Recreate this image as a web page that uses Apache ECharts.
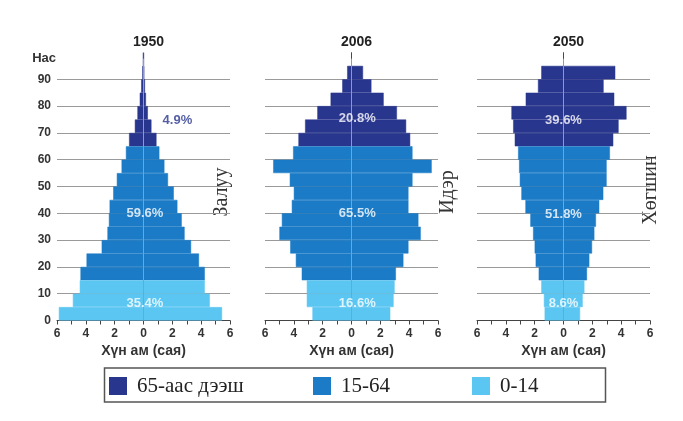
<!DOCTYPE html>
<html>
<head>
<meta charset="utf-8">
<script src="https://cdn.jsdelivr.net/npm/echarts@6/dist/echarts.min.js"></script>
<style>
html,body{margin:0;padding:0;background:#fff;}
#c{width:683px;height:421px;}
</style>
</head>
<body>
<div id="c"></div>
<script>
// ---------- DATA ----------
const ageGroups = ['0-4','5-9','10-14','15-19','20-24','25-29','30-34','35-39','40-44','45-49',
                   '50-54','55-59','60-64','65-69','70-74','75-79','80-84','85-89','90-94','95-99'];
const years = ['1950', '2006', '2050'];

// population (millions), left side and right side of each pyramid, by age group
const left1950  = [5.87, 4.90, 4.42, 4.37, 3.95, 2.90, 2.50, 2.40, 2.35, 2.10, 1.85, 1.52, 1.22, 1.00, 0.60, 0.42, 0.26, 0.16, 0.08, 0.03];
const right1950 = [5.45, 4.60, 4.25, 4.25, 3.85, 3.30, 2.85, 2.65, 2.35, 2.10, 1.70, 1.45, 1.10, 0.90, 0.55, 0.30, 0.17, 0.10, 0.05, 0.02];
const left2006  = [2.71, 3.10, 3.10, 3.45, 3.86, 4.25, 5.00, 4.83, 4.14, 4.00, 4.28, 5.43, 4.05, 3.68, 3.22, 2.37, 1.45, 0.64, 0.30, 0];
const right2006 = [2.69, 2.92, 2.99, 3.08, 3.60, 3.95, 4.80, 4.64, 3.95, 3.95, 4.23, 5.56, 4.23, 4.07, 3.79, 3.15, 2.23, 1.38, 0.80, 0];
const left2050  = [1.31, 1.36, 1.54, 1.72, 1.93, 2.00, 2.11, 2.30, 2.64, 2.92, 3.03, 3.08, 3.15, 3.38, 3.49, 3.61, 2.62, 1.77, 1.54, 0];
const right2050 = [1.15, 1.33, 1.45, 1.63, 1.79, 1.98, 2.14, 2.25, 2.48, 2.76, 2.99, 2.99, 3.22, 3.45, 3.82, 4.37, 3.52, 2.78, 3.59, 0];

// age group -> population group index (0: 65+, 1: 15-64, 2: 0-14)
const groupOfAge = [2,2,2,1,1,1,1,1,1,1,1,1,1,0,0,0,0,0,0,0];
const groupNames = ['65-аас дээш', '15-64', '0-14'];
const pct1950 = ['4.9%', '59.6%', '35.4%'];
const pct2006 = ['20.8%', '65.5%', '16.6%'];
const pct2050 = ['39.6%', '51.8%', '8.6%'];
const sideLabels = ['Залуу', 'Идэр', 'Хөгшин'];

const xTickLabels = [-6, -4, -2, 0, 2, 4, 6];
const ageTicks = [0, 10, 20, 30, 40, 50, 60, 70, 80, 90];

// ---------- LAYOUT / STYLE ----------
const leftData = [left1950, left2006, left2050];
const rightData = [right1950, right2006, right2050];
const pctData = [pct1950, pct2006, pct2050];
const colors = ['#29368e', '#1b7bc6', '#5cc6f2'];
const gridLefts = [57, 265, 477];
const gridWidth = 173;
const gridTop = 52.5;
const gridHeight = 268;
const centreLineTop = 97.7;
// label anchors [x value, age] per group
const labelAnchors = [
  [[2.35, 74.6], [0.1, 40], [0.1, 6.4]],
  [[0.4, 75.5], [0.4, 40], [0.4, 6.4]],
  [[0, 74.5], [0, 39.6], [0, 6.4]]
];
const sideLabelPos = [[222, 192], [448, 192], [651, 190]];
const legendLefts = [109, 313, 472];

const grids = [], xAxes = [], yAxes = [], series = [], titles = [];
years.forEach((yr, p) => {
  grids.push({left: gridLefts[p], top: gridTop, width: gridWidth, height: gridHeight, containLabel: false});
  titles.push({
    text: yr, left: gridLefts[p] + gridWidth / 2, top: 30, textAlign: 'center',
    textStyle: {fontFamily: 'Liberation Sans', fontWeight: 'bold', fontSize: 14, color: '#222'}
  });
  xAxes.push({
    type: 'value', gridIndex: p, min: xTickLabels[0], max: xTickLabels[xTickLabels.length - 1], interval: 2,
    axisLine: {show: true, onZero: false, lineStyle: {color: '#444', width: 1}},
    axisTick: {show: true, length: 4, lineStyle: {color: '#444'}},
    minorTick: {show: true, splitNumber: 2, length: 4, lineStyle: {color: '#444'}},
    splitLine: {show: false},
    axisLabel: {formatter: v => String(Math.abs(v)), fontFamily: 'Liberation Sans', fontWeight: 'bold', fontSize: 12, color: '#333', margin: 7},
    name: 'Хүн ам (сая)', nameLocation: 'middle', nameGap: 24,
    nameTextStyle: {fontFamily: 'Liberation Sans', fontWeight: 'bold', fontSize: 14, color: '#333'}
  });
  // category axis for the bars
  yAxes.push({
    type: 'category', gridIndex: p, data: ageGroups,
    axisLine: {show: false}, axisTick: {show: false}, axisLabel: {show: false}, splitLine: {show: false}
  });
  // value axis for the age ticks and grid lines
  yAxes.push({
    type: 'value', gridIndex: p, min: 0, max: 100, interval: 10, position: 'left',
    axisLine: {show: false}, axisTick: {show: false},
    axisLabel: {show: p === 0, formatter: v => (ageTicks.indexOf(v) >= 0 ? String(v) : ''),
      fontFamily: 'Liberation Sans', fontWeight: 'bold', fontSize: 12, color: '#333', margin: 6},
    splitLine: {show: true, showMinLine: false, showMaxLine: false, lineStyle: {color: '#9a9a9a', width: 1}},
    name: p === 0 ? 'Нас' : '', nameLocation: 'end', nameGap: -6,
    nameTextStyle: {fontFamily: 'Liberation Sans', fontWeight: 'bold', fontSize: 13, color: '#333',
      align: 'right', verticalAlign: 'middle', padding: [0, 1, 0, 0]}
  });
  groupNames.forEach((gName, g) => {
    ['L', 'R'].forEach(side => {
      const src = side === 'L' ? leftData[p] : rightData[p];
      series.push({
        type: 'bar', name: gName, xAxisIndex: p, yAxisIndex: 2 * p,
        barGap: '-100%', barCategoryGap: '0%',
        itemStyle: {color: colors[g], borderColor: colors[g], borderWidth: 0.5},
        data: src.map((v, i) => groupOfAge[i] === g ? (side === 'L' ? -v : v) : '-'),
        silent: true
      });
    });
  });
  series.push({
    type: 'scatter', xAxisIndex: p, yAxisIndex: 2 * p + 1, symbolSize: 0, silent: true, z: 10,
    data: pctData[p].map((t, g) => ({
      value: labelAnchors[p][g],
      label: {show: true, position: 'inside', formatter: t,
        fontFamily: 'Liberation Sans', fontWeight: 'bold', fontSize: 13,
        color: (p === 0 && g === 0) ? colors[0] : '#ffffff'}
    })),
    markLine: {
      silent: true, symbol: 'none', label: {show: false},
      lineStyle: {color: '#9a9a9a', width: 1, type: 'solid'},
      data: [[{coord: [0, 0]}, {coord: [0, centreLineTop]}]]
    }
  });
});

const legends = groupNames.map((n, i) => ({
  data: [n], left: legendLefts[i], top: 375.5, padding: 0, itemWidth: 18, itemHeight: 18,
  icon: 'rect', selectedMode: false,
  itemStyle: {borderWidth: 0},
  textStyle: {fontFamily: 'Liberation Serif', fontSize: 21, color: '#222', padding: [0, 0, 0, 5]}
}));

const graphics = [
  {type: 'rect', left: 102, top: 365.5, shape: {width: 501, height: 34},
   style: {fill: 'none', stroke: '#555', lineWidth: 1.5}, z: -1}
];
sideLabels.forEach((t, i) => {
  graphics.push({
    type: 'text', x: sideLabelPos[i][0], y: sideLabelPos[i][1], rotation: Math.PI / 2,
    style: {text: t, fontFamily: 'Liberation Serif', fontSize: 20, fill: '#333', textAlign: 'center', textVerticalAlign: 'middle'}
  });
});

const chart = echarts.init(document.getElementById('c'), null, {renderer: 'canvas'});
chart.setOption({
  backgroundColor: '#fff',
  animation: false,
  title: titles,
  legend: legends,
  grid: grids,
  xAxis: xAxes,
  yAxis: yAxes,
  series: series,
  graphic: graphics
});
</script>
</body>
</html>
